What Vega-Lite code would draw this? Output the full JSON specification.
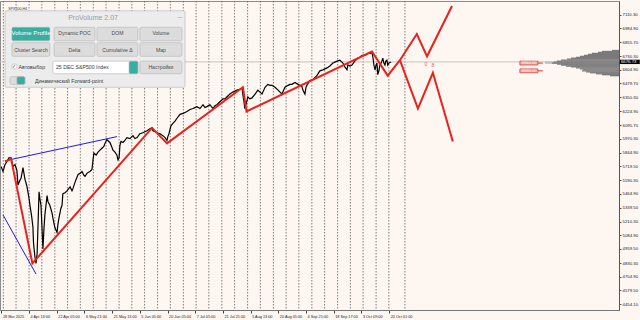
{
"$schema": "https://vega.github.io/schema/vega-lite/v6.json",
"width": 619, "height": 309,
"autosize": "none",
"padding": {"left": 0, "top": 1, "right": 21, "bottom": 10},
"background": "#FEF6F1",
"config": {"view": {"stroke": "#8c8c8c", "strokeWidth": 1, "fill": "#FEF6F1"}, "font": "Liberation Sans",
 "axis": {"labelOverlap": false, "labelFlush": false, "labelBound": false, "grid": false},
 "axisY": {"labelOverlap": false, "labelFontSize": 4.3, "tickSize": 2, "labelPadding": 1, "domainColor": "#555", "tickColor": "#555", "labelColor": "#222"},
 "axisX": {"labelOverlap": false, "labelFontSize": 3.8, "labelPadding": 1, "tickSize": 3, "tickColor": "#444", "domainColor": "#777", "labelColor": "#222"}},
"datasets": {
"grid": [{"t":0.07},{"t":0.53},{"t":1.00},{"t":1.46},{"t":1.93},{"t":2.39},{"t":2.85},{"t":3.32},{"t":3.78},{"t":4.25},{"t":4.71},{"t":5.17},{"t":5.64},{"t":6.10},{"t":6.57},{"t":7.03},{"t":7.49},{"t":7.96},{"t":8.42},{"t":8.89},{"t":9.35},{"t":9.82},{"t":10.28},{"t":10.74},{"t":11.21},{"t":11.67},{"t":12.14},{"t":12.60},{"t":13.06},{"t":13.53},{"t":13.99},{"t":14.57}],
"price": [
{"t":-0.01,"p":5715.4},{"t":0.06,"p":5671.0},{"t":0.13,"p":5733.2},{"t":0.20,"p":5759.9},{"t":0.27,"p":5795.4},{"t":0.35,"p":5795.4},{"t":0.42,"p":5715.4},{"t":0.49,"p":5733.2},{"t":0.56,"p":5679.9},{"t":0.60,"p":5546.7},{"t":0.67,"p":5591.1},{"t":0.71,"p":5608.8},{"t":0.78,"p":5706.6},{"t":0.85,"p":5600.0},{"t":0.92,"p":5537.8},{"t":1.00,"p":5422.3},{"t":1.03,"p":5360.1},{"t":1.07,"p":5297.9},{"t":1.10,"p":5244.6},{"t":1.14,"p":5155.8},{"t":1.16,"p":5013.7},{"t":1.21,"p":4889.3},{"t":1.25,"p":4827.1},{"t":1.29,"p":4916.0},{"t":1.32,"p":5155.8},{"t":1.36,"p":5484.5},{"t":1.39,"p":5422.3},{"t":1.43,"p":5360.1},{"t":1.47,"p":5129.2},{"t":1.50,"p":4960.4},{"t":1.54,"p":5155.8},{"t":1.57,"p":5271.3},{"t":1.65,"p":5448.9},{"t":1.68,"p":5395.6},{"t":1.75,"p":5360.1},{"t":1.83,"p":5289.0},{"t":1.86,"p":5244.6},{"t":1.93,"p":5155.8},{"t":2.01,"p":5111.4},{"t":2.04,"p":5182.5},{"t":2.08,"p":5244.6},{"t":2.15,"p":5333.5},{"t":2.19,"p":5360.1},{"t":2.22,"p":5466.7},{"t":2.30,"p":5475.6},{"t":2.37,"p":5493.4},{"t":2.48,"p":5528.9},{"t":2.55,"p":5493.4},{"t":2.58,"p":5511.1},{"t":2.66,"p":5573.3},{"t":2.73,"p":5617.7},{"t":2.77,"p":5644.4},{"t":2.84,"p":5653.3},{"t":2.91,"p":5671.0},{"t":2.98,"p":5635.5},{"t":3.02,"p":5626.6},{"t":3.09,"p":5653.3},{"t":3.13,"p":5662.2},{"t":3.20,"p":5671.0},{"t":3.27,"p":5688.8},{"t":3.31,"p":5777.6},{"t":3.34,"p":5839.8},{"t":3.42,"p":5822.0},{"t":3.49,"p":5848.7},{"t":3.56,"p":5866.4},{"t":3.63,"p":5884.2},{"t":3.70,"p":5901.9},{"t":3.74,"p":5928.6},{"t":3.81,"p":5964.1},{"t":3.88,"p":5946.4},{"t":3.92,"p":5937.5},{"t":3.99,"p":5893.1},{"t":4.03,"p":5866.4},{"t":4.10,"p":5848.7},{"t":4.17,"p":5822.0},{"t":4.21,"p":5777.6},{"t":4.25,"p":5795.4},{"t":4.28,"p":5910.8},{"t":4.32,"p":5946.4},{"t":4.39,"p":5937.5},{"t":4.46,"p":5955.3},{"t":4.53,"p":5981.9},{"t":4.64,"p":5973.0},{"t":4.75,"p":5999.7},{"t":4.82,"p":5973.0},{"t":4.90,"p":5981.9},{"t":5.00,"p":6017.4},{"t":5.11,"p":6026.3},{"t":5.18,"p":6035.2},{"t":5.26,"p":6044.1},{"t":5.36,"p":6061.9},{"t":5.44,"p":6070.7},{"t":5.47,"p":6044.1},{"t":5.55,"p":6035.2},{"t":5.62,"p":6026.3},{"t":5.73,"p":6017.4},{"t":5.83,"p":5999.7},{"t":5.91,"p":5981.9},{"t":5.98,"p":5955.3},{"t":6.01,"p":5990.8},{"t":6.05,"p":6017.4},{"t":6.12,"p":6088.5},{"t":6.20,"p":6115.2},{"t":6.27,"p":6132.9},{"t":6.34,"p":6159.6},{"t":6.45,"p":6195.1},{"t":6.56,"p":6204.0},{"t":6.63,"p":6212.9},{"t":6.70,"p":6221.8},{"t":6.81,"p":6239.5},{"t":6.92,"p":6248.4},{"t":6.99,"p":6257.3},{"t":7.06,"p":6266.2},{"t":7.17,"p":6248.4},{"t":7.28,"p":6284.0},{"t":7.35,"p":6257.3},{"t":7.42,"p":6266.2},{"t":7.53,"p":6284.0},{"t":7.64,"p":6248.4},{"t":7.71,"p":6275.1},{"t":7.78,"p":6284.0},{"t":7.89,"p":6310.6},{"t":8.00,"p":6337.3},{"t":8.07,"p":6337.3},{"t":8.14,"p":6355.0},{"t":8.25,"p":6381.7},{"t":8.36,"p":6399.4},{"t":8.43,"p":6408.3},{"t":8.51,"p":6417.2},{"t":8.61,"p":6426.1},{"t":8.69,"p":6435.0},{"t":8.72,"p":6372.8},{"t":8.76,"p":6310.6},{"t":8.79,"p":6248.4},{"t":8.83,"p":6284.0},{"t":8.90,"p":6355.0},{"t":8.97,"p":6337.3},{"t":9.05,"p":6346.1},{"t":9.16,"p":6381.7},{"t":9.26,"p":6417.2},{"t":9.34,"p":6399.4},{"t":9.41,"p":6381.7},{"t":9.52,"p":6443.9},{"t":9.62,"p":6470.5},{"t":9.70,"p":6461.6},{"t":9.77,"p":6461.6},{"t":9.88,"p":6443.9},{"t":9.99,"p":6417.2},{"t":10.06,"p":6399.4},{"t":10.13,"p":6381.7},{"t":10.24,"p":6443.9},{"t":10.35,"p":6461.6},{"t":10.42,"p":6470.5},{"t":10.49,"p":6470.5},{"t":10.60,"p":6488.3},{"t":10.71,"p":6470.5},{"t":10.78,"p":6461.6},{"t":10.85,"p":6452.7},{"t":10.89,"p":6417.2},{"t":10.96,"p":6381.7},{"t":11.00,"p":6443.9},{"t":11.03,"p":6461.6},{"t":11.14,"p":6506.0},{"t":11.25,"p":6514.9},{"t":11.32,"p":6532.7},{"t":11.39,"p":6550.4},{"t":11.50,"p":6594.9},{"t":11.61,"p":6603.7},{"t":11.68,"p":6612.6},{"t":11.76,"p":6621.5},{"t":11.86,"p":6639.3},{"t":11.97,"p":6665.9},{"t":12.04,"p":6674.8},{"t":12.12,"p":6683.7},{"t":12.22,"p":6692.6},{"t":12.30,"p":6674.8},{"t":12.33,"p":6665.9},{"t":12.40,"p":6630.4},{"t":12.48,"p":6603.7},{"t":12.51,"p":6648.2},{"t":12.58,"p":6639.3},{"t":12.66,"p":6648.2},{"t":12.76,"p":6683.7},{"t":12.87,"p":6710.3},{"t":12.95,"p":6719.2},{"t":13.02,"p":6737.0},{"t":13.13,"p":6737.0},{"t":13.23,"p":6754.8},{"t":13.31,"p":6754.8},{"t":13.38,"p":6763.6},{"t":13.42,"p":6710.3},{"t":13.45,"p":6648.2},{"t":13.49,"p":6603.7},{"t":13.52,"p":6639.3},{"t":13.56,"p":6665.9},{"t":13.59,"p":6559.3},{"t":13.63,"p":6594.9},{"t":13.66,"p":6639.3},{"t":13.74,"p":6683.7},{"t":13.77,"p":6710.3},{"t":13.81,"p":6665.9},{"t":13.85,"p":6648.2},{"t":13.88,"p":6683.7},{"t":13.92,"p":6692.6},{"t":13.95,"p":6648.2},{"t":13.99,"p":6665.9},{"t":14.07,"p":6676.7}],
"zigzag": [
{"id":"main","t":0.13,"p":5759.9},{"id":"main","t":0.35,"p":5786.5},{"id":"main","t":1.12,"p":4827.1},{"id":"main","t":5.44,"p":6070.7},{"id":"main","t":5.98,"p":5928.6},{"id":"main","t":8.72,"p":6443.9},{"id":"main","t":8.85,"p":6221.8},{"id":"main","t":13.38,"p":6772.5},{"id":"main","t":13.95,"p":6550.4},{"id":"main","t":14.39,"p":6692.6},
{"id":"up","t":14.39,"p":6692.6},{"id":"up","t":15.0,"p":6932.4},{"id":"up","t":15.37,"p":6728.1},{"id":"up","t":16.27,"p":7190},
{"id":"down","t":14.39,"p":6692.6},{"id":"down","t":15.04,"p":6248.4},{"id":"down","t":15.58,"p":6577.1},{"id":"down","t":16.30,"p":5946.4}],
"trend": [
{"id":"top","t":0.13,"p":5768.8},{"id":"top","t":4.17,"p":5990.8},
{"id":"bottom","t":0.06,"p":5271.3},{"id":"bottom","t":1.25,"p":4729.4}],
"vp": [
{"p":6781.4,"vol":11.3},{"p":6772.5,"vol":27.5},{"p":6763.6,"vol":33.9},{"p":6754.8,"vol":43.6},{"p":6745.9,"vol":50.1},{"p":6737.0,"vol":56.5},{"p":6728.1,"vol":63.0},{"p":6719.2,"vol":69.5},{"p":6710.3,"vol":77.5},{"p":6701.4,"vol":84.0},{"p":6692.6,"vol":93.7},{"p":6683.7,"vol":100.2},{"p":6674.8,"vol":105.0},{"p":6665.9,"vol":108.2},{"p":6657.0,"vol":100.2},{"p":6648.2,"vol":93.7},{"p":6639.3,"vol":85.6},{"p":6630.4,"vol":77.5},{"p":6621.5,"vol":69.5},{"p":6612.6,"vol":63.0},{"p":6603.7,"vol":58.2},{"p":6594.9,"vol":59.8},{"p":6586.0,"vol":53.3},{"p":6577.1,"vol":46.8},{"p":6568.2,"vol":37.2},{"p":6559.3,"vol":27.5},{"p":6550.4,"vol":14.5}],
"vpTail": [{"p":6674.8,"vol":119.5},{"p":6665.9,"vol":119.5}],
"levels": [
{"lbl":"6660.00","t1":18.72,"t2":19.37,"tm":19.05,"tl":19.55,"p1":6683.7,"p2":6648.2,"p":6665.9},
{"lbl":"6590.00","t1":18.72,"t2":19.37,"tm":19.05,"tl":19.55,"p1":6612.6,"p2":6577.1,"p":6594.9}],
"marks": [{"txt":"0","t":15.33,"p":6657},{"txt":"8","t":15.58,"p":6648}],
"panelRects": [
{"role":"frame","t1":0.13,"t2":6.63,"p1":6443.9,"p2":7145.6},
{"role":"active","t1":0.38,"t2":1.75,"p1":6870.1,"p2":6994.6},
{"role":"btn","t1":1.90,"t2":3.38,"p1":6870.1,"p2":6994.6},
{"role":"btn","t1":3.45,"t2":4.93,"p1":6870.1,"p2":6994.6},
{"role":"btn","t1":5.00,"t2":6.52,"p1":6870.1,"p2":6994.6},
{"role":"btn","t1":0.38,"t2":1.75,"p1":6728.1,"p2":6852.5},
{"role":"btn","t1":1.90,"t2":3.38,"p1":6728.1,"p2":6852.5},
{"role":"btn","t1":3.45,"t2":4.93,"p1":6728.1,"p2":6852.5},
{"role":"btn","t1":5.00,"t2":6.52,"p1":6728.1,"p2":6852.5},
{"role":"input","t1":0.38,"t2":0.56,"p1":6612.6,"p2":6657.0},
{"role":"input","t1":1.86,"t2":4.93,"p1":6568.2,"p2":6683.7},
{"role":"teal","t1":4.61,"t2":4.93,"p1":6568.2,"p2":6683.7},
{"role":"btn","t1":5.00,"t2":6.52,"p1":6568.2,"p2":6683.7},
{"role":"btn","t1":0.31,"t2":0.85,"p1":6470.5,"p2":6541.5},
{"role":"teal","t1":0.56,"t2":0.85,"p1":6470.5,"p2":6541.5}],
"panelCenter": [
{"text":"ProVolume 2.07","role":"title","t":3.31,"p":7083},
{"text":"_","role":"title","t":6.45,"p":7115},
{"text":"Volume Profile","role":"activeText","t":1.07,"p":6941},
{"text":"Dynamic POC","role":"btnText","t":2.64,"p":6941},
{"text":"DOM","role":"btnText","t":4.19,"p":6941},
{"text":"Volume","role":"btnText","t":5.76,"p":6941},
{"text":"Cluster Search","role":"btnText","t":1.07,"p":6782},
{"text":"Delta","role":"btnText","t":2.64,"p":6782},
{"text":"Cumulative Δ","role":"btnText","t":4.19,"p":6782},
{"text":"Map","role":"btnText","t":5.76,"p":6782},
{"text":"Настройки","role":"btnText","t":5.76,"p":6626},
{"text":"✓","role":"btnText","t":0.47,"p":6635}],
"panelLeft": [
{"text":"Автовыбор","t":0.62,"p":6630},
{"text":"25 DEC S&P500 Index","t":1.97,"p":6626},
{"text":"Динамический Forward-point","t":1.21,"p":6506}]
},
"resolve": {"scale": {"x": "independent"}},
"layer": [
{"layer": [
{"data": {"name": "grid"}, "mark": {"type": "rule", "color": "#5e5e5e", "strokeDash": [1.5, 1.5], "strokeWidth": 0.8},
 "encoding": {"x": {"field": "t", "type": "quantitative", "title": null, "scale": {"domain": [-0.05, 22.3], "nice": false, "zero": false}}}},
{"data": {"values": [{"p": 6676.73}]}, "mark": {"type": "rule", "color": "#c9c4c0", "strokeWidth": 1},
 "encoding": {"y": {"field": "p", "type": "quantitative", "title": null, "scale": {"domain": [4445, 7190], "nice": false, "zero": false},
   "axis": {"title": null, "orient": "right", "tickCount": 50, "values": [7110.3,6984.9,6855.7,6730.3,6604.9,6479.7,6350.3,6224.9,6095.7,5970.3,5844.9,5719.5,5590.3,5464.9,5339.5,5210.3,5084.9,4959.5,4830.3,4704.9,4579.5,4454.1], "format": ".2f", "labelOverlap": false}}}},
{"data": {"name": "price"}, "mark": {"type": "line", "color": "#000000", "strokeWidth": 1.2},
 "encoding": {
  "x": {"field": "t", "type": "quantitative", "title": null, "scale": {"domain": [-0.05, 22.3], "nice": false, "zero": false},
   "axis": {"title": null, "tickCount": 50, "values": [0,1,2,3,4,5,6,7,8,9,10,11,12,13,14],
    "labelExpr": "['28 Mar 2025','4 Apr 13:00','22 Apr 05:00','6 May 21:00','21 May 13:00','5 Jun 05:00','20 Jun 05:00','7 Jul 05:00','21 Jul 21:00','5 Aug 13:00','20 Aug 05:00','4 Sep 21:00','18 Sep 17:00','3 Oct 09:00','20 Oct 01:00'][datum.value]",
    "labelAlign": "left", "labelOffset": 1, "labelOverlap": false}},
  "y": {"field": "p", "type": "quantitative", "title": null, "scale": {"domain": [4445, 7190], "nice": false, "zero": false},
   "axis": {"title": null, "orient": "right", "tickCount": 50, "values": [7110.3,6984.9,6855.7,6730.3,6604.9,6479.7,6350.3,6224.9,6095.7,5970.3,5844.9,5719.5,5590.3,5464.9,5339.5,5210.3,5084.9,4959.5,4830.3,4704.9,4579.5,4454.1], "format": ".2f", "labelOverlap": false}}}},
{"data": {"name": "trend"}, "mark": {"type": "line", "color": "#1c1ce0", "strokeWidth": 1},
 "encoding": {"x": {"field": "t", "type": "quantitative", "title": null, "scale": {"domain": [-0.05, 22.3], "nice": false, "zero": false}},
  "y": {"field": "p", "type": "quantitative", "title": null, "scale": {"domain": [4445, 7190], "nice": false, "zero": false}},
  "detail": {"field": "id"}}},
{"data": {"name": "zigzag"}, "mark": {"type": "line", "color": "#e8221c", "strokeWidth": 2, "clip": true},
 "encoding": {"x": {"field": "t", "type": "quantitative", "title": null, "scale": {"domain": [-0.05, 22.3], "nice": false, "zero": false}},
  "y": {"field": "p", "type": "quantitative", "title": null, "scale": {"domain": [4445, 7190], "nice": false, "zero": false}},
  "detail": {"field": "id"}}},
{"data": {"name": "marks"}, "mark": {"type": "text", "color": "#e06060", "fontSize": 5},
 "encoding": {"x": {"field": "t", "type": "quantitative", "title": null, "scale": {"domain": [-0.05, 22.3], "nice": false, "zero": false}},
  "y": {"field": "p", "type": "quantitative", "title": null, "scale": {"domain": [4445, 7190], "nice": false, "zero": false}},
  "text": {"field": "txt"}}},
{"data": {"name": "levels"}, "mark": {"type": "rule", "color": "#e03030", "strokeWidth": 1},
 "encoding": {"x": {"field": "t2", "type": "quantitative", "title": null, "scale": {"domain": [-0.05, 22.3], "nice": false, "zero": false}}, "x2": {"field": "tl"},
  "y": {"field": "p", "type": "quantitative", "title": null, "scale": {"domain": [4445, 7190], "nice": false, "zero": false}}}},
{"data": {"name": "levels"}, "mark": {"type": "rect", "fill": "#f2a7a7", "stroke": "#e03030", "strokeWidth": 0.7},
 "encoding": {"x": {"field": "t1", "type": "quantitative", "title": null, "scale": {"domain": [-0.05, 22.3], "nice": false, "zero": false}}, "x2": {"field": "t2"},
  "y": {"field": "p1", "type": "quantitative", "title": null, "scale": {"domain": [4445, 7190], "nice": false, "zero": false}}, "y2": {"field": "p2"}}},
{"data": {"name": "levels"}, "mark": {"type": "text", "color": "#fff4f4", "fontSize": 4.2},
 "encoding": {"x": {"field": "tm", "type": "quantitative", "title": null, "scale": {"domain": [-0.05, 22.3], "nice": false, "zero": false}},
  "y": {"field": "p", "type": "quantitative", "title": null, "scale": {"domain": [4445, 7190], "nice": false, "zero": false}}, "text": {"field": "lbl"}}},
{"data": {"values": [{"t1": 22.33, "t2": 23.05, "p1": 6697, "p2": 6657}]}, "mark": {"type": "rect", "fill": "#000000"},
 "encoding": {"x": {"field": "t1", "type": "quantitative", "title": null, "scale": {"domain": [-0.05, 22.3], "nice": false, "zero": false}}, "x2": {"field": "t2"},
  "y": {"field": "p1", "type": "quantitative", "title": null, "scale": {"domain": [4445, 7190], "nice": false, "zero": false}}, "y2": {"field": "p2"}}},
{"data": {"values": [{"t": 22.37, "p": 6676.73, "lbl": "6676.73"}]}, "mark": {"type": "text", "color": "#ffffff", "fontSize": 4.3, "align": "left"},
 "encoding": {"x": {"field": "t", "type": "quantitative", "title": null, "scale": {"domain": [-0.05, 22.3], "nice": false, "zero": false}},
  "y": {"field": "p", "type": "quantitative", "title": null, "scale": {"domain": [4445, 7190], "nice": false, "zero": false}}, "text": {"field": "lbl"}}},
{"data": {"name": "panelRects"}, "mark": {"type": "rect", "stroke": "#b3b3b3", "strokeWidth": 0.6, "cornerRadius": 1.5},
 "encoding": {"x": {"field": "t1", "type": "quantitative", "title": null, "scale": {"domain": [-0.05, 22.3], "nice": false, "zero": false}}, "x2": {"field": "t2"},
  "y": {"field": "p1", "type": "quantitative", "title": null, "scale": {"domain": [4445, 7190], "nice": false, "zero": false}}, "y2": {"field": "p2"},
  "fill": {"field": "role", "type": "nominal", "scale": {"domain": ["frame", "btn", "active", "input", "teal"], "range": ["#ececec", "#dcdcdc", "#38aea2", "#ffffff", "#38aea2"]}, "legend": null}}},
{"data": {"name": "panelCenter"}, "mark": {"type": "text", "align": "center", "baseline": "middle"},
 "encoding": {"x": {"field": "t", "type": "quantitative", "title": null, "scale": {"domain": [-0.05, 22.3], "nice": false, "zero": false}},
  "y": {"field": "p", "type": "quantitative", "title": null, "scale": {"domain": [4445, 7190], "nice": false, "zero": false}},
  "text": {"field": "text"},
  "size": {"field": "role", "type": "nominal", "scale": {"domain": ["title", "activeText", "btnText"], "range": [7, 5.1, 5.1]}, "legend": null},
  "color": {"field": "role", "type": "nominal", "scale": {"domain": ["title", "activeText", "btnText"], "range": ["#9b9b9b", "#ffffff", "#4a4a4a"]}, "legend": null}}},
{"data": {"name": "panelLeft"}, "mark": {"type": "text", "align": "left", "baseline": "middle", "fontSize": 5.2, "color": "#3a3a3a"},
 "encoding": {"x": {"field": "t", "type": "quantitative", "title": null, "scale": {"domain": [-0.05, 22.3], "nice": false, "zero": false}},
  "y": {"field": "p", "type": "quantitative", "title": null, "scale": {"domain": [4445, 7190], "nice": false, "zero": false}},
  "text": {"field": "text"}}},
{"data": {"values": [{"t": 0.25, "p": 7163, "lbl": "SPX500,H4"}]}, "mark": {"type": "text", "align": "left", "baseline": "middle", "fontSize": 3.6, "color": "#333333"},
 "encoding": {"x": {"field": "t", "type": "quantitative", "title": null, "scale": {"domain": [-0.05, 22.3], "nice": false, "zero": false}},
  "y": {"field": "p", "type": "quantitative", "title": null, "scale": {"domain": [4445, 7190], "nice": false, "zero": false}},
  "text": {"field": "lbl"}}}
]},
{"layer": [
{"data": {"name": "vpTail"}, "mark": {"type": "bar", "orient": "horizontal", "size": 1.3, "color": "#b9b9b9"},
 "encoding": {"x": {"field": "vol", "type": "quantitative", "scale": {"domain": [0, 1000], "reverse": true}, "axis": null},
  "y": {"field": "p", "type": "quantitative", "title": null, "scale": {"domain": [4445, 7190], "nice": false, "zero": false},
   "axis": {"title": null, "orient": "right", "tickCount": 50, "values": [7110.3,6984.9,6855.7,6730.3,6604.9,6479.7,6350.3,6224.9,6095.7,5970.3,5844.9,5719.5,5590.3,5464.9,5339.5,5210.3,5084.9,4959.5,4830.3,4704.9,4579.5,4454.1], "format": ".2f", "labelOverlap": false}}}},
{"data": {"name": "vp"}, "mark": {"type": "bar", "orient": "horizontal", "size": 1.3, "color": "#7a7a7a"},
 "encoding": {"x": {"field": "vol", "type": "quantitative", "scale": {"domain": [0, 1000], "reverse": true}, "axis": null},
  "y": {"field": "p", "type": "quantitative", "title": null, "scale": {"domain": [4445, 7190], "nice": false, "zero": false},
   "axis": {"title": null, "orient": "right", "tickCount": 50, "values": [7110.3,6984.9,6855.7,6730.3,6604.9,6479.7,6350.3,6224.9,6095.7,5970.3,5844.9,5719.5,5590.3,5464.9,5339.5,5210.3,5084.9,4959.5,4830.3,4704.9,4579.5,4454.1], "format": ".2f", "labelOverlap": false}}}}
]}
]
}
